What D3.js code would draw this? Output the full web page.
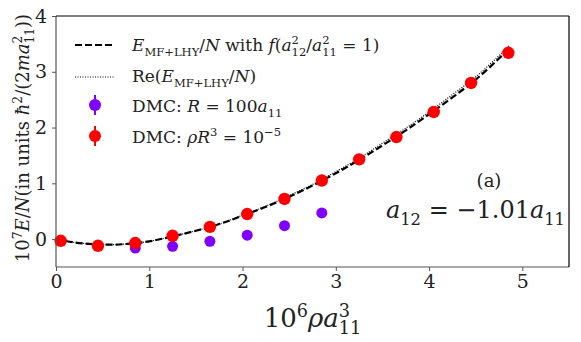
<!DOCTYPE html>
<meta charset="utf-8">
<style>
body { margin: 0; background: #fff; }
svg text { font-family: "DejaVu Serif", "Liberation Serif", "Noto Serif", "Times New Roman", serif; fill: #222; }
</style>
<body></body>
<script src="https://d3js.org/d3.v7.min.js"></script>
<script>

// DMC points, rho R^3 = 1e-5 (red)
var redX = [0.05, 0.45, 0.85, 1.25, 1.65, 2.05, 2.45, 2.85, 3.25, 3.65, 4.05, 4.45, 4.85];
var redY = [-0.03, -0.12, -0.07, 0.06, 0.22, 0.45, 0.72, 1.05, 1.43, 1.83, 2.28, 2.80, 3.34];

// DMC points, R = 100 a11 (purple)
var purpleX = [0.85, 1.25, 1.65, 2.05, 2.45, 2.85];
var purpleY = [-0.16, -0.13, -0.04, 0.07, 0.24, 0.47];

// MF+LHY curves
var curveX  = [0, 0.2, 0.4, 0.6, 0.8, 1.0, 1.25, 1.5, 1.75, 2.0, 2.25, 2.5, 2.75, 3.0, 3.25, 3.5, 3.75, 4.0, 4.25, 4.5, 4.86];
var dashedY = [0, -0.06, -0.09, -0.10, -0.08, -0.04, 0.05, 0.15, 0.27, 0.42, 0.58, 0.76, 0.96, 1.18, 1.42, 1.68, 1.95, 2.24, 2.54, 2.86, 3.42];
var dottedY = [0, -0.06, -0.09, -0.10, -0.08, -0.04, 0.05, 0.15, 0.27, 0.43, 0.59, 0.78, 0.98, 1.21, 1.45, 1.72, 1.99, 2.28, 2.59, 2.91, 3.47];

var xTicks = [0, 1, 2, 3, 4, 5];
var yTicks = [0, 1, 2, 3, 4];

var W = 581, H = 342;
var margin = {top: 16, right: 12, bottom: 75, left: 56};

var svg = d3.select("body").append("svg")
    .attr("width", W)
    .attr("height", H);

var x = d3.scaleLinear().domain([0, 5.5]).range([margin.left, W - margin.right]);
var y = d3.scaleLinear().domain([-0.5, 4]).range([H - margin.bottom, margin.top]);

// writes math-ish text from parts: {t, it, sup, sub, stack}
// stack: sub placed under the preceding sup
function rich(sel, parts, size) {
  var cur = 0, lastW = 0;
  parts.forEach(function(p) {
    var off = p.sub ? size * 0.28 : (p.sup ? -size * 0.40 : 0);
    var ts = sel.append("tspan").attr("dy", off - cur).text(p.t);
    if (p.sub || p.sup) ts.style("font-size", (size * 0.68) + "px");
    if (p.it) ts.style("font-style", "italic");
    if (p.stack) ts.attr("dx", -lastW);
    lastW = ts.node().getComputedTextLength();
    cur = off;
  });
}

// curves
var lineGen = function(ys) {
  return d3.line()
    .x(function(d, i) { return x(curveX[i]); })
    .y(function(d) { return y(d); })
    .curve(d3.curveMonotoneX)(ys);
};

svg.append("path")
    .attr("d", lineGen(dottedY))
    .attr("fill", "none")
    .attr("stroke", "#000")
    .attr("stroke-width", 1.2)
    .attr("stroke-dasharray", "1,1.5");

svg.append("path")
    .attr("d", lineGen(dashedY))
    .attr("fill", "none")
    .attr("stroke", "#000")
    .attr("stroke-width", 2.2)
    .attr("stroke-dasharray", "7,3");

// points
svg.selectAll(".pdot")
    .data(purpleX)
  .enter().append("circle")
    .attr("class", "pdot")
    .attr("cx", function(d) { return x(d); })
    .attr("cy", function(d, i) { return y(purpleY[i]); })
    .attr("r", 5.5)
    .attr("fill", "#7f00ff");

svg.selectAll(".rdot")
    .data(redX)
  .enter().append("circle")
    .attr("class", "rdot")
    .attr("cx", function(d) { return x(d); })
    .attr("cy", function(d, i) { return y(redY[i]); })
    .attr("r", 6.2)
    .attr("fill", "#ff0000");

// axes
var xAxis = svg.append("g")
    .attr("transform", "translate(0," + (H - margin.bottom) + ")")
    .call(d3.axisBottom(x).tickValues(xTicks).tickSize(4).tickPadding(4).tickFormat(d3.format("d")));
var yAxis = svg.append("g")
    .attr("transform", "translate(" + margin.left + ",0)")
    .call(d3.axisLeft(y).tickValues(yTicks).tickSize(4).tickPadding(5).tickFormat(d3.format("d")));
[xAxis, yAxis].forEach(function(a) {
  a.attr("font-family", null).attr("font-size", null);
  a.select(".domain").remove();
  a.selectAll(".tick line").attr("stroke", "#555");
  a.selectAll(".tick text").attr("fill", "#222").style("font-size", "19px");
});

// spines
svg.append("line").attr("x1", x(0)).attr("x2", x(0)).attr("y1", y(-0.5)).attr("y2", y(4)).attr("stroke", "#555").attr("stroke-width", 1.2);
svg.append("line").attr("x1", x(0)).attr("x2", x(5.5)).attr("y1", y(-0.5)).attr("y2", y(-0.5)).attr("stroke", "#555").attr("stroke-width", 1.2);
svg.append("line").attr("x1", x(0)).attr("x2", x(5.5)).attr("y1", y(4)).attr("y2", y(4)).attr("stroke", "#000").attr("stroke-width", 1.2);
svg.append("line").attr("x1", x(5.5)).attr("x2", x(5.5)).attr("y1", y(-0.5)).attr("y2", y(4)).attr("stroke", "#000").attr("stroke-width", 1.2);

// axis labels
var xl = svg.append("text")
    .attr("x", (x(0) + x(5.5)) / 2)
    .attr("y", 327)
    .attr("text-anchor", "middle")
    .style("font-size", "26px");
rich(xl, [{t: "10"}, {t: "6", sup: true}, {t: "ρa", it: true}, {t: "3", sup: true}, {t: "11", sub: true, stack: true}], 26);

var yl = svg.append("text")
    .attr("transform", "translate(29," + 138 + ") rotate(-90)")
    .attr("text-anchor", "middle")
    .style("font-size", "18px");
rich(yl, [{t: "10"}, {t: "7", sup: true}, {t: "E", it: true}, {t: "/"}, {t: "N", it: true},
          {t: "(in units "}, {t: "ħ", it: true}, {t: "2", sup: true}, {t: "/(2"}, {t: "ma", it: true},
          {t: "2", sup: true}, {t: "11", sub: true, stack: true}, {t: "))"}], 18);

// legend
var lg = svg.append("g");
lg.append("line").attr("x1", 75).attr("x2", 115).attr("y1", 45).attr("y2", 45)
    .attr("stroke", "#000").attr("stroke-width", 2.2).attr("stroke-dasharray", "7,3");
lg.append("line").attr("x1", 75).attr("x2", 115).attr("y1", 77).attr("y2", 77)
    .attr("stroke", "#000").attr("stroke-width", 1.2).attr("stroke-dasharray", "1,1.5");
lg.append("line").attr("x1", 95).attr("x2", 95).attr("y1", 95).attr("y2", 115)
    .attr("stroke", "#7f00ff").attr("stroke-width", 2);
lg.append("circle").attr("cx", 95).attr("cy", 105).attr("r", 6).attr("fill", "#7f00ff");
lg.append("line").attr("x1", 95).attr("x2", 95).attr("y1", 126).attr("y2", 146)
    .attr("stroke", "#ff0000").attr("stroke-width", 2);
lg.append("circle").attr("cx", 95).attr("cy", 136).attr("r", 6).attr("fill", "#ff0000");

var fs = 17;
rich(lg.append("text").attr("x", 132).attr("y", 51).style("font-size", fs + "px"),
  [{t: "E", it: true}, {t: "MF+LHY", sub: true}, {t: "/"}, {t: "N", it: true}, {t: " with "},
   {t: "f", it: true}, {t: "("}, {t: "a", it: true}, {t: "2", sup: true}, {t: "12", sub: true, stack: true},
   {t: "/"}, {t: "a", it: true}, {t: "2", sup: true}, {t: "11", sub: true, stack: true}, {t: " = 1)"}], fs);
rich(lg.append("text").attr("x", 132).attr("y", 82).style("font-size", fs + "px"),
  [{t: "Re("}, {t: "E", it: true}, {t: "MF+LHY", sub: true}, {t: "/"}, {t: "N", it: true}, {t: ")"}], fs);
rich(lg.append("text").attr("x", 132).attr("y", 112).style("font-size", fs + "px"),
  [{t: "DMC: "}, {t: "R", it: true}, {t: " = 100"}, {t: "a", it: true}, {t: "11", sub: true}], fs);
rich(lg.append("text").attr("x", 132).attr("y", 143).style("font-size", fs + "px"),
  [{t: "DMC: "}, {t: "ρR", it: true}, {t: "3", sup: true}, {t: " = 10"}, {t: "−5", sup: true}], fs);

// annotations
svg.append("text").attr("x", 489).attr("y", 187).attr("text-anchor", "middle")
    .style("font-size", "18px").text("(a)");
rich(svg.append("text").attr("x", 565).attr("y", 218).attr("text-anchor", "end").style("font-size", "24px"),
  [{t: "a", it: true}, {t: "12", sub: true}, {t: " = −1.01"}, {t: "a", it: true}, {t: "11", sub: true}], 24);

</script>
